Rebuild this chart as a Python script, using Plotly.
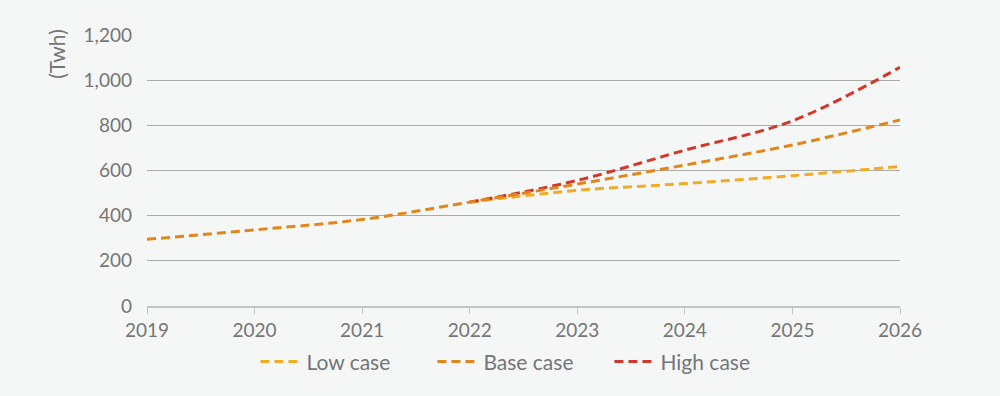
import plotly.graph_objects as go

years_base = [2019, 2020, 2021, 2022, 2023, 2024, 2025, 2026]
base_case = [295, 337, 383, 460, 540, 624, 713, 824]
years_proj = [2022, 2023, 2024, 2025, 2026]
low_case = [460, 512, 542, 577, 618]
high_case = [460, 556, 690, 820, 1057]
y_ticks = [0, 200, 400, 600, 800, 1000, 1200]
y_labels = ["0", "200", "400", "600", "800", "1,000", "1,200"]

font_family = "Lato, Noto Sans, sans-serif"
txt = "#757575"
dash = "9px,5px"

fig = go.Figure()
fig.add_trace(go.Scatter(x=years_proj, y=low_case, name="Low case", mode="lines", legendrank=1,
                         line=dict(color="#f0ac27", width=3, dash=dash, shape="spline")))
fig.add_trace(go.Scatter(x=years_proj, y=high_case, name="High case", mode="lines", legendrank=3,
                         line=dict(color="#d2382a", width=3, dash=dash, shape="spline")))
fig.add_trace(go.Scatter(x=years_base, y=base_case, name="Base case", mode="lines", legendrank=2,
                         line=dict(color="#e0861a", width=3, dash=dash, shape="spline")))

fig.update_layout(
    width=1000, height=396,
    paper_bgcolor="#f5f7f7", plot_bgcolor="#f5f7f7",
    margin=dict(l=147, r=100, t=35, b=90),
    font=dict(family=font_family, color=txt, size=19),
    showlegend=True,
    legend=dict(orientation="h", x=0.144, xanchor="left", y=-0.13, yanchor="top",
                font=dict(size=21, color=txt), bgcolor="rgba(0,0,0,0)",
                itemwidth=41, entrywidth=121),
    xaxis=dict(range=[2019, 2026], tickmode="array", tickvals=years_base,
               ticktext=[str(y) for y in years_base], showgrid=False, zeroline=False,
               showline=True, linecolor="#c4c4c4", linewidth=2, ticks="outside",
               tickcolor="#c4c4c4", ticklen=6, tickwidth=1, tickfont=dict(size=19, color=txt)),
    yaxis=dict(range=[0, 1200], tickvals=y_ticks, ticktext=y_labels,
               showgrid=True, gridcolor="#aaaaaa", gridwidth=1, zeroline=False,
               showline=False, ticks="", ticklabelstandoff=14, tickfont=dict(size=19, color=txt)),
    annotations=[dict(text="(Twh)", textangle=-90, xref="paper", yref="paper",
                      x=(57 - 147) / 753, y=1.03, xanchor="center", yanchor="top",
                      showarrow=False, font=dict(size=21, color=txt))],
)
fig.write_html("out.html", config={"displayModeBar": False},
               post_script="document.body.style.margin='0';document.body.style.background='#f5f7f7';")
